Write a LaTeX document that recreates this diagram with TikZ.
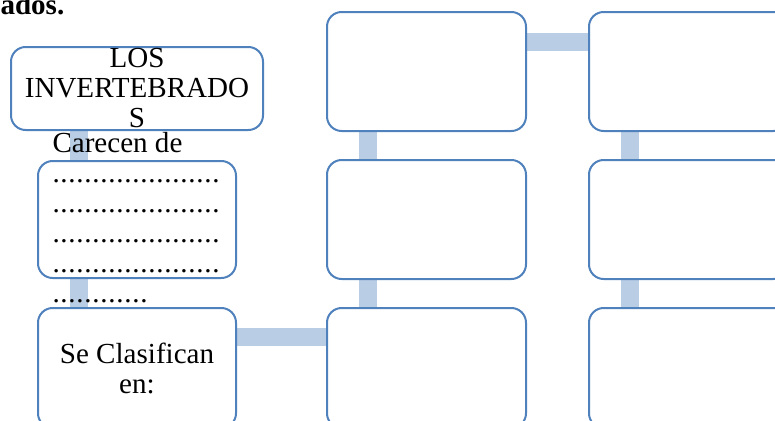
\documentclass[tikz,border=0pt]{standalone}
\usepackage{fontspec}
\setmainfont{Liberation Serif}
\newfontfamily\dotsfont[LetterSpace=2.5]{Liberation Serif}
\usetikzlibrary{backgrounds}

\definecolor{boxblue}{RGB}{79,129,189}
\definecolor{linkblue}{RGB}{185,205,229}

\tikzset{every picture/.style={line width=0.75pt}}
\tikzset{
  cbox/.style={draw=boxblue, line width=1.5pt, fill=white, rounded corners=11pt,
    inner sep=0pt, outer sep=0pt, anchor=north west, align=center,
    font=\fontsize{21.8}{22.5}\selectfont},
  link/.style={draw=linkblue, line width=13.5pt},
  txt/.style={inner sep=0pt, font=\fontsize{21.8}{22.5}\selectfont}
}

\begin{document}
\begin{tikzpicture}[x=0.75pt,y=0.75pt,yscale=-1,xscale=1]
\useasboundingbox (0,0) rectangle (775,421);
\clip (0,0) rectangle (775,421);

% Text Node
\draw (0,15) node [anchor=base west][inner sep=0pt, font=\fontsize{21.8}{22.5}\selectfont\bfseries] (titulo) {ados.};

%Rounded Rect
\draw (11,47) node [cbox, minimum width=189pt, minimum height=62.25pt] (los) {LOS\\INVERTEBRADO\\S};
%Rounded Rect
\draw (38,161) node [cbox, minimum width=148.5pt, minimum height=87.75pt] (carbox) {};
%Rounded Rect
\draw (38,308) node [cbox, minimum width=148.5pt, minimum height=90pt] (clas) {Se Clasifican\\en:};

%Rounded Rect
\draw (327,12) node [cbox, minimum width=149.25pt, minimum height=89.25pt] (m1) {};
%Rounded Rect
\draw (327,160) node [cbox, minimum width=149.25pt, minimum height=89.25pt] (m2) {};
%Rounded Rect
\draw (327,308) node [cbox, minimum width=149.25pt, minimum height=90pt] (m3) {};

%Rounded Rect
\draw (589,12) node [cbox, minimum width=149.25pt, minimum height=89.25pt] (r1) {};
%Rounded Rect
\draw (589,160) node [cbox, minimum width=149.25pt, minimum height=89.25pt] (r2) {};
%Rounded Rect
\draw (589,308) node [cbox, minimum width=149.25pt, minimum height=90pt] (r3) {};

% Text Node
\draw (52,132) node [anchor=north west][txt, align=left] (carecen) {Carecen de\\
{\dotsfont .....................}\\
{\dotsfont .....................}\\
{\dotsfont .....................}\\
{\dotsfont .....................}\\
{\dotsfont ............}};

\begin{scope}[on background layer]
%Straight Lines
\path (carbox.north west) ++(41,0) coordinate (c1);
\draw [link] (c1 |- los.south) -- (c1);
\path (clas.north west) ++(41,0) coordinate (c2);
\draw [link] (c2 |- carbox.south) -- (c2);
%Straight Lines
\path (m2.north west) ++(41,0) coordinate (c3);
\draw [link] (c3 |- m1.south) -- (c3);
\path (m3.north west) ++(41,0) coordinate (c4);
\draw [link] (c4 |- m2.south) -- (c4);
%Straight Lines
\path (r2.north west) ++(41,0) coordinate (c5);
\draw [link] (c5 |- r1.south) -- (c5);
\path (r3.north west) ++(41,0) coordinate (c6);
\draw [link] (c6 |- r2.south) -- (c6);
%Straight Lines
\path (m3.north west) ++(0,29) coordinate (h1);
\draw [link] (h1 -| clas.east) -- (h1);
\path (r1.north west) ++(0,30) coordinate (h2);
\draw [link] (h2 -| m1.east) -- (h2);
\end{scope}

\end{tikzpicture}
\end{document}
